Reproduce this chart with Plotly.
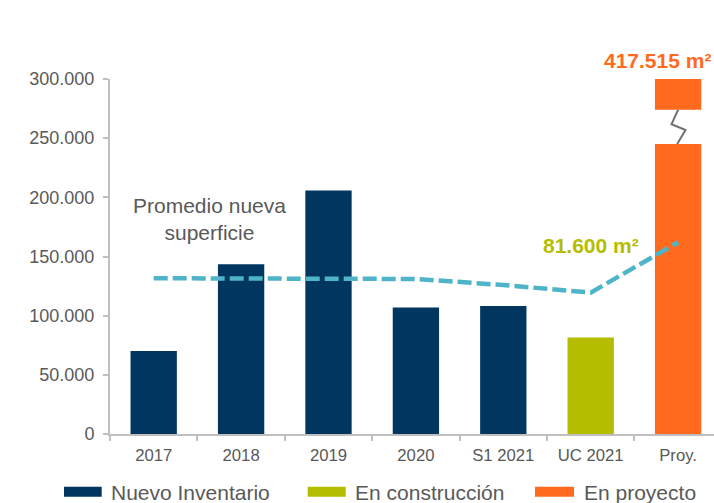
import plotly.graph_objects as go

# ---------------- data ----------------
categories = ["2017", "2018", "2019", "2020", "S1 2021", "UC 2021", "Proy."]
nuevo_cats = ["2017", "2018", "2019", "2020", "S1 2021"]
nuevo_inventario = [70200, 143400, 205800, 107000, 108100]
construccion_cats = ["UC 2021"]
en_construccion = [81600]
proyecto_cats = ["Proy."]
en_proyecto_total = 417515          # shown as a broken bar
proy_break_low = 245000             # top of lower segment
proy_break_high = 274000            # bottom of upper segment
y_max = 300000
promedio = [131600, 131600, 131400, 131000, 125900, 119500, 162000]
series_names = ["Nuevo Inventario", "En construcción", "En proyecto"]
y_ticks = [0, 50000, 100000, 150000, 200000, 250000, 300000]

# ---------------- style ----------------
W, H = 714, 503
ML, MR, MT, MB = 110, 0, 79, 69
PW, PH = W - ML - MR, H - MT - MB
CAT_PX = 87.4
NAVY, GREEN, ORANGE, TEAL = "#00365F", "#B5BD00", "#FF6A1F", "#4FB4C8"
GRAY_TXT, AXIS = "#595959", "#BFBFBF"
FONT = "Liberation Sans, Arial, sans-serif"
BAR_W = 0.53

def px_x(px):  # pixel -> paper
    return (px - ML) / PW

def px_y(py):
    return (H - MB - py) / PH

fig = go.Figure()
fig.add_trace(go.Bar(x=nuevo_cats, y=nuevo_inventario, name=series_names[0],
                     marker=dict(color=NAVY, line=dict(width=0)), width=BAR_W))
fig.add_trace(go.Bar(x=construccion_cats, y=en_construccion, name=series_names[1],
                     marker=dict(color=GREEN, line=dict(width=0)), width=BAR_W))
fig.add_trace(go.Bar(x=proyecto_cats * 2,
                     y=[proy_break_low, y_max - proy_break_high],
                     base=[0, proy_break_high], name=series_names[2],
                     marker=dict(color=ORANGE, line=dict(width=0)), width=BAR_W))
fig.add_trace(go.Scatter(x=categories, y=promedio, mode="lines",
                         line=dict(color=TEAL, width=4.5, dash="14px,5px"),
                         name="Promedio nueva superficie"))

# break zig-zag on the Proy. bar
pi = categories.index("Proy.")
span = proy_break_high - proy_break_low
path = (f"M {pi + 0.0},{proy_break_high} "
        f"L {pi - 0.075},{proy_break_high - span * 0.42} "
        f"L {pi + 0.085},{proy_break_high - span * 0.59} "
        f"L {pi - 0.01},{proy_break_low}")
shapes = [dict(type="path", xref="x", yref="y", path=path,
               line=dict(color="#707070", width=2))]

total_label = f"{en_proyecto_total:,}".replace(",", ".")
annotations = [
    dict(x=0.644, y=181400, xref="x", yref="y", text="Promedio nueva<br>superficie",
         showarrow=False, font=dict(family=FONT, size=21, color=GRAY_TXT), align="center",
         xanchor="center"),
    dict(x=5.0, y=159700, xref="x", yref="y", text="<b>81.600 m²</b>", xanchor="center",
         showarrow=False, font=dict(family=FONT, size=21, color=GREEN)),
    dict(x=px_x(657.5), y=px_y(60), xref="paper", yref="paper", xanchor="center",
         yanchor="middle", text=f"<b>{total_label} m²</b>", showarrow=False,
         font=dict(family=FONT, size=21, color=ORANGE)),
]

# custom legend (wide swatches)
legend_items = [(64, 101.7, NAVY), (307.7, 345.7, GREEN), (535, 574, ORANGE)]
for (x0, x1, col), name in zip(legend_items, series_names):
    shapes.append(dict(type="rect", xref="paper", yref="paper",
                       x0=px_x(x0), x1=px_x(x1), y0=px_y(496.7), y1=px_y(486.7),
                       fillcolor=col, line=dict(width=0)))
    annotations.append(dict(x=px_x(x1 + 7.5), y=px_y(492.8), xref="paper", yref="paper",
                            xanchor="left", yanchor="middle", text=name, showarrow=False,
                            font=dict(family=FONT, size=21, color=GRAY_TXT)))

fig.update_layout(
    width=W, height=H, margin=dict(l=ML, r=MR, t=MT, b=MB),
    paper_bgcolor="white", plot_bgcolor="white",
    barmode="overlay", showlegend=False, separators=",.",
    font=dict(family=FONT, color=GRAY_TXT),
    shapes=shapes, annotations=annotations,
    xaxis=dict(type="category", categoryorder="array", categoryarray=categories,
               range=[-0.5, -0.5 + PW / CAT_PX], showline=True, linecolor=AXIS, linewidth=2,
               ticks="outside", tickson="boundaries", ticklen=5, tickcolor=AXIS, tickwidth=1.5,
               ticklabelstandoff=5,
               showgrid=False, tickfont=dict(size=16.7, color=GRAY_TXT, family=FONT)),
    yaxis=dict(range=[0, y_max], tickvals=y_ticks, tickformat=",d", showline=True,
               linecolor=AXIS, linewidth=2, ticks="outside", ticklen=5, tickcolor=AXIS,
               tickwidth=1.5, showgrid=False, zeroline=False, ticklabelstandoff=5,
               tickfont=dict(size=18, color=GRAY_TXT, family=FONT)),
)
fig.write_html("out.html")
